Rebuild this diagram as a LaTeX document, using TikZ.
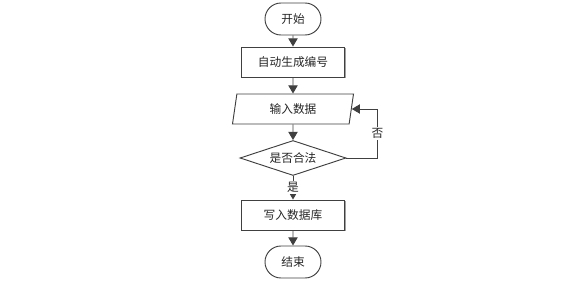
\documentclass[tikz,border=0pt]{standalone}
\usepackage{fontspec}
\newfontfamily\cjk{Noto Sans CJK SC}
\usepackage{tikz}
\usetikzlibrary{arrows.meta, shapes.geometric, shapes.misc, shadows}
\definecolor{linec}{HTML}{404040}
\definecolor{shadc}{HTML}{A0A0A0}
\tikzset{
  base/.style={draw=linec, line width=0.8pt, fill=white, inner sep=0pt,
    font=\cjk\fontsize{10}{12}\selectfont, text=black!85},
  term/.style={base, rounded rectangle, minimum width=56*0.03cm, minimum height=32*0.03cm},
  proc/.style={base, rectangle, minimum width=103*0.03cm, minimum height=30*0.03cm,
    drop shadow={shadow xshift=1.2pt, shadow yshift=-1.2pt, fill=shadc, opacity=1}},
  io/.style={base, trapezium, trapezium left angle=68, trapezium right angle=112,
    minimum width=121*0.03cm, minimum height=30*0.03cm, trapezium stretches body},
  cond/.style={base, diamond, aspect=3, minimum width=106*0.03cm, minimum height=35*0.03cm},
  flow/.style={draw=linec, line width=0.8pt, -{Triangle[length=7pt, width=8pt]}},
  lab/.style={fill=white, inner sep=1pt, font=\cjk\fontsize{10}{12}\selectfont, text=black!85}
}
\begin{document}
\begin{tikzpicture}[x=0.03cm, y=0.03cm]
  \useasboundingbox (0,0) rectangle (579,-283);
  \node[term] (start) at (293,-19) {开始};
  \node[proc] (gen) at (293,-62) {自动生成编号};
  \node[io] (data) at (293,-109) {输入数据};
  \node[cond] (chk) at (293,-158) {是否合法};
  \node[proc] (save) at (293,-215) {写入数据库};
  \node[term] (stop) at (293,-262) {结束};
  \draw[flow] (start) -- (gen);
  \draw[flow] (gen) -- (data);
  \draw[flow] (data) -- (chk);
  \draw[flow] (chk) -- node[lab] {是} (save);
  \draw[flow] (save) -- (stop);
  \draw[flow] (chk.east) -- ++(31,0) |- node[lab, pos=0.25] {否} (data.east);
\end{tikzpicture}
\end{document}
